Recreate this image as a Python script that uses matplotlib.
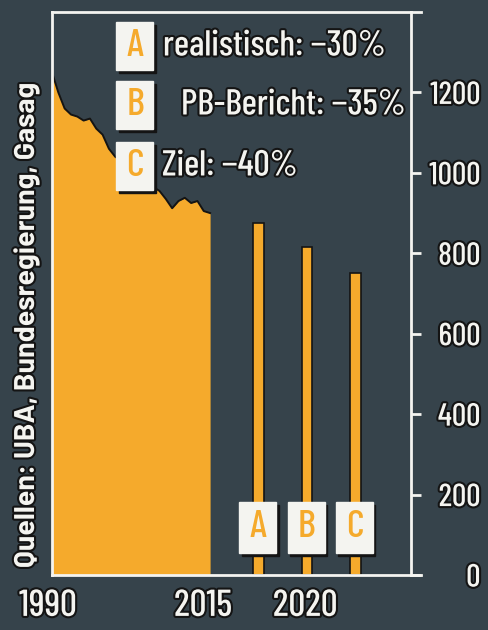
import numpy as np
import matplotlib.pyplot as plt
import matplotlib.patheffects as pe
from matplotlib.patches import Rectangle
from matplotlib.transforms import ScaledTranslation

# ------------------------------------------------------------
# DATA
# ------------------------------------------------------------

years = [1990, 1991, 1992, 1993, 1994, 1995, 1996, 1997, 1998, 1999,
         2000, 2001, 2002, 2003, 2004, 2005, 2006, 2007, 2008, 2009,
         2010, 2011, 2012, 2013, 2014, 2015]
emissions = [1250, 1200, 1160, 1145, 1140, 1130, 1135, 1110, 1095, 1060,
             1040, 1030, 1010, 1000, 990, 975, 965, 955, 935, 912,
             930, 938, 925, 930, 905, 900]

scenario_letters = ["A", "B", "C"]
scenario_labels = ["realistisch: \u221230%", "PB-Bericht: \u221235%", "Ziel: \u221240%"]
scenario_values = [875, 815, 750]
scenario_year = 2020

y_ticks = [0, 200, 400, 600, 800, 1000, 1200]
x_labels = [1990, 2015, 2020]
x_minor = [1995, 2000, 2005, 2010]

source = "Quellen: UBA, Bundesregierung, Gasag"

# ------------------------------------------------------------
# STYLE
# ------------------------------------------------------------

BG = "#36434b"
ORANGE = "#f5aa2c"
WHITE = "#f4f4f0"
DARK = "#141414"

plt.rcParams['font.family'] = ['Barlow Condensed', 'DejaVu Sans']
plt.rcParams['font.weight'] = 500

outline = [pe.withStroke(linewidth=3, foreground=DARK)]


# compressed history, wider future part
K1 = 6.32 / 19.4


def fwd(x):
    x = np.asarray(x, dtype=float)
    return np.where(x <= 2015, (x - 1990) * K1, 25 * K1 + (x - 2015))


def inv(p):
    p = np.asarray(p, dtype=float)
    return np.where(p <= 25 * K1, 1990 + p / K1, 2015 + (p - 25 * K1))


fig = plt.figure(figsize=(4.89, 6.30), dpi=100)
fig.patch.set_facecolor(BG)

ax = fig.add_axes([52 / 489, 1 - 575 / 630, (411 - 52) / 489, (575 - 12) / 630])
ax.set_facecolor(BG)
ax.set_xscale('function', functions=(fwd, inv))
ax.set_xlim(1990, 2025.35)
ax.set_ylim(0, 1400)

# ------------------------------------------------------------
# AREA + BARS
# ------------------------------------------------------------

ax.fill_between(years, emissions, 0, color=ORANGE, linewidth=0, zorder=2)
ax.plot(years, emissions, color=DARK, linewidth=1.4, zorder=3)

bar_pos = [scenario_year + off for off in (-2.5, 0, 2.5)]
ax.bar(bar_pos, scenario_values, width=0.55, color=ORANGE,
       edgecolor=DARK, linewidth=1.2, zorder=2)

# ------------------------------------------------------------
# AXES
# ------------------------------------------------------------

for side in ['top', 'left', 'bottom', 'right']:
    ax.spines[side].set_color(WHITE)
    ax.spines[side].set_linewidth(2)
    ax.spines[side].set_zorder(5)

# frame lines run a little past the right axis
for yy in (0, 1):
    ax.plot([1, 1.028], [yy, yy], transform=ax.transAxes, color=WHITE,
            linewidth=2, clip_on=False, zorder=5)

ax.yaxis.tick_right()
ax.set_yticks(y_ticks)
ax.set_yticklabels([str(v) for v in y_ticks])
ax.tick_params(axis='y', direction='out', length=7, width=2, color=WHITE,
               labelcolor=WHITE, labelsize=23, pad=43)
for lab in ax.get_yticklabels():
    lab.set_horizontalalignment('right')
    lab.set_path_effects(outline)

ax.set_xticks(x_labels)
ax.set_xticklabels([str(v) for v in x_labels])
ax.set_xticks(x_minor, minor=True)
ax.tick_params(axis='x', which='major', length=0, labelcolor=WHITE,
               labelsize=27, pad=10)
ax.tick_params(axis='x', which='minor', direction='in', length=5, width=1.5,
               color=WHITE)
# the printed year labels sit a little left of their ticks
for lab, dx in zip(ax.get_xticklabels(), [-4, -7, -2]):
    lab.set_path_effects(outline)
    lab.set_transform(lab.get_transform() + ScaledTranslation(dx / 100, 0, fig.dpi_scale_trans))

# ------------------------------------------------------------
# LETTER BOXES
# ------------------------------------------------------------


def letter_box(cx, cy, letter, w=37, h=48):
    x0 = (cx - w / 2) / 489
    y0 = 1 - (cy + h / 2) / 630
    fig.patches.append(Rectangle((x0 + 2 / 489, y0 - 3 / 630), w / 489, h / 630,
                                 transform=fig.transFigure, color=DARK, zorder=6))
    fig.patches.append(Rectangle((x0, y0), w / 489, h / 630,
                                 transform=fig.transFigure, color=WHITE, zorder=7))
    fig.text(cx / 489, 1 - cy / 630, letter, color=ORANGE, fontsize=28,
             ha='center', va='center', zorder=8)


legend_rows = [46, 105, 166]
text_x = [163, 181, 162]
for letter, label, cy, tx in zip(scenario_letters, scenario_labels, legend_rows, text_x):
    letter_box(135, cy, letter)
    fig.text(tx / 489, 1 - cy / 630, label, color=WHITE, fontsize=26,
             ha='left', va='center', path_effects=outline, zorder=8)

for letter, px in zip(scenario_letters, [258, 306, 355]):
    letter_box(px, 527, letter, w=37, h=51)

fig.text(26 / 489, 1 - 325 / 630, source, rotation=90, color=WHITE,
         fontsize=20.5, fontweight='bold', family=['Barlow', 'DejaVu Sans'],
         ha='center', va='center', path_effects=outline)

fig.savefig("out.png", dpi=100, facecolor=BG)
